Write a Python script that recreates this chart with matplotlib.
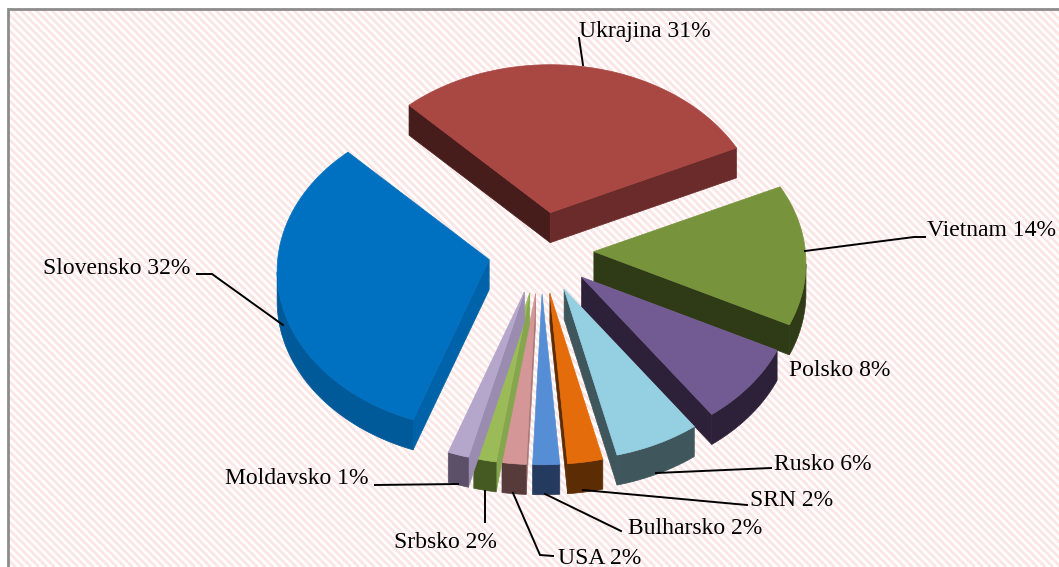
import numpy as np
import matplotlib
matplotlib.use('Agg')
import matplotlib.pyplot as plt
from matplotlib.collections import LineCollection
from matplotlib.patches import Polygon

countries = ['Slovensko', 'Ukrajina', 'Vietnam', 'Polsko', 'Rusko', 'SRN', 'Bulharsko', 'USA', 'Srbsko', 'Moldavsko']
# shares, the labels show them rounded
shares = [32.2, 30.5, 14.3, 7.8, 6.1, 2.5, 1.9, 1.7, 1.6, 1.49]
labels = ['Slovensko 32%', 'Ukrajina 31%', 'Vietnam 14%', 'Polsko 8%', 'Rusko 6%', 'SRN 2%',
          'Bulharsko 2%', 'USA 2%', 'Srbsko 2%', 'Moldavsko 1%']

top_colors = ['#0070c0', '#a94743', '#77933c', '#725a92', '#94cfe2', '#e46c0a', '#558ed5', '#d49696', '#9bbb59', '#b5a6cb']
start_wall = ['#0062a8', '#471d1b', '#2f3b17', '#2c2138', '#3f565d', '#5c2c04', '#243a5e', '#a87878', '#86a54f', '#9a8bb0']
arc_wall = ['#005a9a', '#6b2b2a', '#2f3b17', '#2c2138', '#3f565d', '#5c2c04', '#243a5e', '#573a3a', '#455a22', '#5c5068']
end_wall = ['#0062a8', '#6b2b2a', '#2f3b17', '#2c2138', '#3f565d', '#5c2c04', '#243a5e', '#573a3a', '#455a22', '#5c5068']

# pie geometry in pixels
cx, cy = 541, 251
rx, ry = 211.5, 158.6
persp = 0.072
explode = [0.25, 0.25, 0.25, 0.25, 0.26, 0.265, 0.265, 0.265, 0.265, 0.265]
depth = 30
first_angle = 199.6

W, H = 1059, 567


def project(theta, r=1.0):
    u = r * np.sin(np.radians(theta))
    v = r * np.cos(np.radians(theta))
    s = 1 + persp * v
    return np.column_stack([rx * u / s, -ry * v / s])


fig = plt.figure(figsize=(W / 100, H / 100), dpi=100)
ax = fig.add_axes([0, 0, 1, 1])
ax.set_xlim(0, W)
ax.set_ylim(H, 0)
ax.axis('off')

# hatched background
starts = np.arange(-H, W, 7.8)
segs = [[(x, 0), (x + H, H)] for x in starts]
bg = LineCollection(segs, colors='#fce6e5', linewidths=2.0, zorder=0)
ax.add_collection(bg)
ax.fill([0, W, W, 0], [0, 0, 8, 8], color='white', zorder=0.5, lw=0)
ax.fill([0, 8, 8, 0], [0, 0, H, H], color='white', zorder=0.5, lw=0)
ax.plot([8, 8, W], [H, 9, 9], color='#8c8c8c', lw=2, zorder=0.6, solid_joinstyle='miter')

total = sum(shares)
spans = [s / total * 360 for s in shares]
begin = np.cumsum([first_angle] + spans[:-1])

# back to front
order = [1, 0, 2, 3, 4, 5, 6, 7, 8, 9]
z = 1
for i in order:
    a0 = begin[i]
    a1 = a0 + spans[i]
    apex = np.array([cx, cy]) + project((a0 + a1) / 2, explode[i])[0]
    arc = apex + project(np.linspace(a0, a1, 80))

    walls = []
    if arc[0][0] < apex[0]:
        walls.append(([apex, arc[0]], start_wall[i]))
    if apex[0] < arc[-1][0]:
        walls.append(([arc[-1], apex], end_wall[i]))
    # the part of the rim that faces the viewer
    front = np.where(np.diff(arc[:, 0]) < 0)[0]
    if len(front):
        walls.append((list(arc[front[0]:front[-1] + 2]), arc_wall[i]))
    for edge, color in walls:
        edge = np.array(edge)
        pts = np.vstack([edge, edge[::-1] + [0, depth]])
        ax.add_patch(Polygon(pts, closed=True, fc=color, ec=color, lw=0.5, zorder=z))
        z += 1
    ax.add_patch(Polygon(np.vstack([apex, arc]), closed=True, fc=top_colors[i], ec=top_colors[i], lw=0.5, zorder=z))
    z += 1

# leader lines
leaders = [
    [(197, 274), (212, 274), (283, 325)],
    [(579, 38), (583, 65)],
    [(805, 251), (914, 237), (925, 237)],
    [(656, 473), (771, 468)],
    [(583, 490), (747, 505)],
    [(545, 494), (621, 531)],
    [(513, 493), (540, 555), (553, 556)],
    [(485, 491), (485, 522)],
    [(375, 485), (458, 484)],
]
for pts in leaders:
    xs, ys = zip(*pts)
    ax.plot(xs, ys, color='black', lw=1.4, zorder=z)

label_pos = [(43, 268), (579, 31), (927, 231), (789, 370), (774, 464), (750, 501),
             (628, 529), (558, 558), (394, 542), (225, 479)]
for txt, (x, y) in zip(labels, label_pos):
    ax.text(x, y, txt, family='Liberation Serif', fontsize=17, color='black', ha='left', va='center', zorder=z + 1)

fig.savefig('out.png', dpi=100)
